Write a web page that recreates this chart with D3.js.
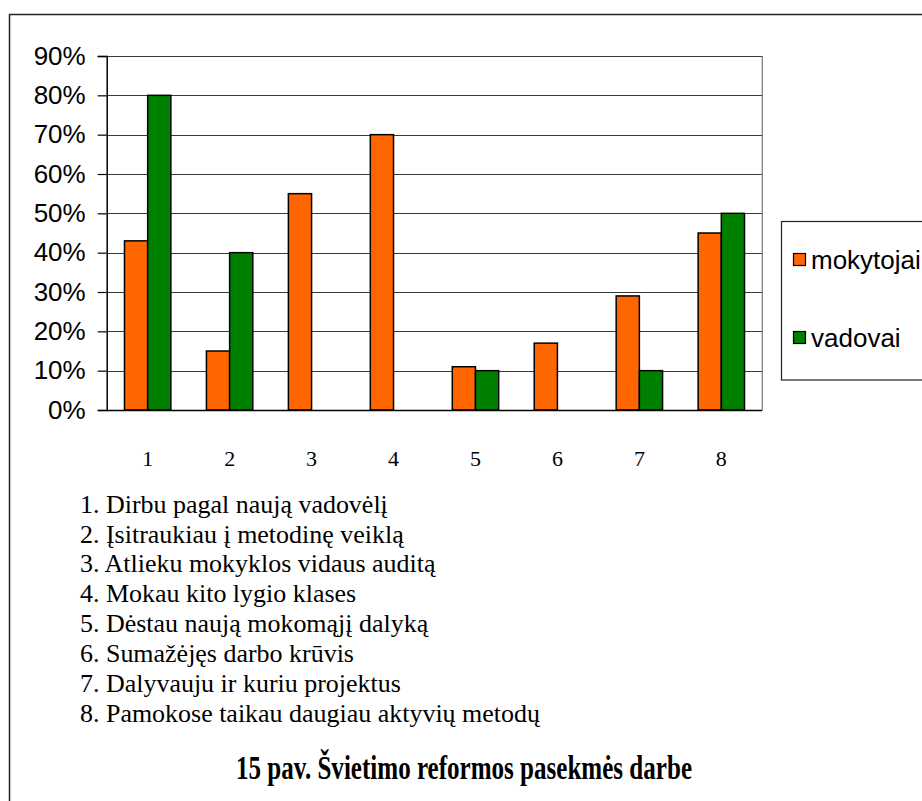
<!DOCTYPE html>
<html>
<head>
<meta charset="utf-8">
<script src="https://cdn.jsdelivr.net/npm/d3@7"></script>
<style>
  html, body { margin: 0; padding: 0; background: #fff; }
  svg { display: block; }
</style>
</head>
<body>
<svg id="chart" width="922" height="801"></svg>
<script>
// ---- data ----
const categories = ["1", "2", "3", "4", "5", "6", "7", "8"];
const seriesNames = ["mokytojai", "vadovai"];
const mokytojai = [0.43, 0.15, 0.55, 0.70, 0.11, 0.17, 0.29, 0.45];
const vadovai   = [0.80, 0.40, 0, 0, 0.10, 0, 0.10, 0.50];
const yTicks = [0, 0.1, 0.2, 0.3, 0.4, 0.5, 0.6, 0.7, 0.8, 0.9];
const itemLabels = [
  "1. Dirbu pagal naują vadovėlį",
  "2. Įsitraukiau į metodinę veiklą",
  "3. Atlieku mokyklos vidaus auditą",
  "4. Mokau kito lygio klases",
  "5. Dėstau naują mokomąjį dalyką",
  "6. Sumažėjęs darbo krūvis",
  "7. Dalyvauju ir kuriu projektus",
  "8. Pamokose taikau daugiau aktyvių metodų"
];
const title = "15 pav. Švietimo reformos pasekmės darbe";
const colors = {mokytojai: "#FF6600", vadovai: "#008000"};

// ---- layout ----
const svg = d3.select("#chart");
const plot = {left: 106.7, right: 762.3, top: 56, bottom: 410};
const sans = "'Liberation Sans', Arial, sans-serif";
const serif = "'Liberation Serif', 'Times New Roman', serif";

// outer border
svg.append("rect")
  .attr("x", 9.5).attr("y", 14.5)
  .attr("width", 940).attr("height", 820)
  .attr("fill", "none").attr("stroke", "#222").attr("stroke-width", 1.5);

const x0 = d3.scaleBand().domain(categories)
  .range([plot.left, plot.right])
  .paddingInner(0.434).paddingOuter(0.217);
const x1 = d3.scaleBand().domain(seriesNames)
  .range([0, x0.bandwidth()]).padding(0);
const y = d3.scaleLinear().domain([0, 0.9]).range([plot.bottom, plot.top]);

// gridlines
svg.append("g").selectAll("line").data(yTicks.filter(d => d > 0)).join("line")
  .attr("x1", plot.left).attr("x2", plot.right)
  .attr("y1", d => Math.round(y(d)) + 0.5).attr("y2", d => Math.round(y(d)) + 0.5)
  .attr("stroke", "#3a3a3a").attr("stroke-width", 1.2);

// right border of plot area
svg.append("line")
  .attr("x1", plot.right).attr("x2", plot.right)
  .attr("y1", plot.top).attr("y2", plot.bottom)
  .attr("stroke", "#777").attr("stroke-width", 1.2);

// bars
const rows = categories.map((c, i) => ({cat: c, vals: [
  {s: "mokytojai", v: mokytojai[i]}, {s: "vadovai", v: vadovai[i]}]}));
const groups = svg.append("g").selectAll("g").data(rows).join("g")
  .attr("transform", d => `translate(${x0(d.cat)},0)`);
groups.selectAll("rect").data(d => d.vals.filter(e => e.v > 0)).join("rect")
  .attr("x", d => x1(d.s))
  .attr("y", d => y(d.v))
  .attr("width", x1.bandwidth())
  .attr("height", d => y(0) - y(d.v))
  .attr("fill", d => colors[d.s])
  .attr("stroke", "#000").attr("stroke-width", 1.5);

// y axis
const yAxis = d3.axisLeft(y).tickValues(yTicks).tickFormat(d3.format(".0%"))
  .tickSize(9).tickPadding(12);
const yg = svg.append("g").attr("transform", `translate(${plot.left},0)`).call(yAxis);
yg.select(".domain").attr("stroke", "#000").attr("stroke-width", 1.5);
yg.selectAll(".tick line").attr("stroke", "#000").attr("stroke-width", 1.2);
yg.selectAll(".tick text").attr("font-family", sans).attr("font-size", 26).attr("fill", "#000");

// x axis
const xAxis = d3.axisBottom(x0).tickSize(0).tickPadding(40);
const xg = svg.append("g").attr("transform", `translate(0,${plot.bottom})`).call(xAxis);
xg.select(".domain").attr("d", `M${plot.left},0.5H${plot.right}`).attr("stroke", "#000").attr("stroke-width", 1.5);
xg.selectAll(".tick text").attr("font-family", serif).attr("font-size", 22).attr("fill", "#000");

// legend
const lg = svg.append("g");
lg.append("rect").attr("x", 781.5).attr("y", 221.5).attr("width", 200).attr("height", 158.5)
  .attr("fill", "#fff").attr("stroke", "#222").attr("stroke-width", 1.2);
const legendY = d3.scalePoint().domain(seriesNames).range([260, 338]);
seriesNames.forEach(s => {
  lg.append("rect").attr("x", 793.5).attr("y", legendY(s) - 6.5).attr("width", 12).attr("height", 12)
    .attr("fill", colors[s]).attr("stroke", "#000").attr("stroke-width", 1.2);
  lg.append("text").attr("x", 811).attr("y", legendY(s)).attr("dy", "0.35em")
    .attr("font-family", sans).attr("font-size", 26).text(s);
});

// item labels (slightly widened as in the reference)
const listY = d3.scaleLinear().domain([0, 7]).range([512.7, 721.7]);
svg.append("g").attr("transform", "translate(80,0) scale(1.06,1)")
  .selectAll("text").data(itemLabels).join("text")
  .attr("x", 0).attr("y", (d, i) => listY(i))
  .attr("font-family", serif).attr("font-size", 24.5).text(d => d);

// title (condensed as in the reference)
svg.append("text").attr("x", 464).attr("y", 779)
  .attr("text-anchor", "middle").attr("font-family", serif)
  .attr("font-weight", "bold").attr("font-size", 33)
  .attr("textLength", 456).attr("lengthAdjust", "spacingAndGlyphs")
  .text(title);
</script>
</body>
</html>
